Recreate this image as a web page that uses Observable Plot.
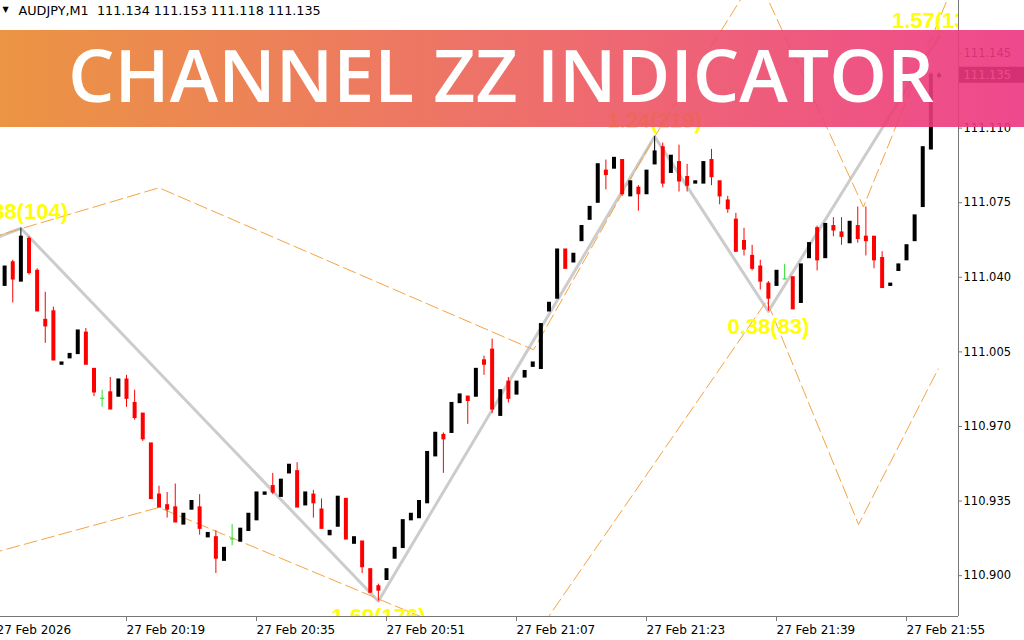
<!DOCTYPE html>
<html><head><meta charset="utf-8">
<script src="https://cdn.jsdelivr.net/npm/d3@7"></script>
<script src="https://cdn.jsdelivr.net/npm/@observablehq/plot@0.6"></script>
<style>
html,body{margin:0;padding:0;background:#fff;}
#wrap{position:relative;width:1024px;height:640px;overflow:hidden;}
#banner{position:absolute;left:0;top:30px;}
</style></head><body>
<div id="wrap"><div id="chart"></div>
<svg id="banner" width="1024" height="97" viewBox="0 0 1024 97">
 <defs><linearGradient id="g" x1="0" x2="1" y1="0" y2="0">
  <stop offset="0" stop-color="rgb(233,137,46)"/>
  <stop offset="0.5" stop-color="rgb(236,96,90)"/>
  <stop offset="1" stop-color="rgb(237,52,130)"/>
 </linearGradient></defs>
 <rect x="0" y="0" width="1024" height="97" fill="url(#g)" opacity="0.9"/>
 <text id="btitle" x="68" y="72" fill="#fff" font-family="Open Sans" font-weight="600" font-size="72" textLength="866" lengthAdjust="spacingAndGlyphs"></text>
</svg>
</div>
<script>
// ---- data ----
const bannerTitle = "CHANNEL ZZ INDICATOR";
const headerText = "AUDJPY,M1  111.134 111.153 111.118 111.135";
const currentPrice = 111.135;

// bar index = minutes after 20:03
const minute = [1,2,3,4,5,6,7,8,9,10,11,12,13,14,15,16,17,18,19,20,21,22,23,24,25,26,27,28,29,30,31,32,33,34,35,36,37,38,39,40,41,42,43,44,45,46,47,48,49,50,51,52,53,54,55,56,57,58,59,60,61,62,63,64,65,66,67,68,69,70,71,72,73,74,75,76,77,78,79,80,81,82,83,84,85,86,87,88,89,90,91,92,93,94,95,96,97,98,99,100,101,102,103,104,105,106,107,108,109,110,111,112,113,114,115,116];
const open  = [111.036,111.047,111.038,111.058,111.043,111.020,111.024,110.999,111.002,111.004,111.014,110.997,110.983,110.986,110.984,110.992,110.981,110.976,110.962,110.938,110.933,110.932,110.924,110.931,110.932,110.918,110.918,110.907,110.917,110.916,110.921,110.926,110.938,110.942,110.937,110.948,110.949,110.933,110.938,110.931,110.919,110.923,110.936,110.915,110.916,110.903,110.895,110.898,110.908,110.913,110.926,110.927,110.934,110.956,110.966,110.967,110.981,110.984,110.984,111.001,111.006,110.975,110.991,110.985,110.993,110.998,110.997,111.024,111.030,111.053,111.047,111.057,111.067,111.075,111.090,111.091,111.095,111.078,111.082,111.079,111.093,111.101,111.089,111.094,111.087,111.084,111.084,111.095,111.085,111.076,111.067,111.057,111.050,111.045,111.037,111.036,111.039,111.040,111.028,111.049,111.063,111.049,111.064,111.061,111.056,111.064,111.059,111.059,111.049,111.036,111.043,111.048,111.057,111.073,111.100,111.134];
const high  = [111.045,111.048,111.063,111.059,111.044,111.033,111.026,111.000,111.004,111.015,111.016,110.997,110.987,110.993,110.992,110.994,110.987,110.976,110.962,110.942,110.939,110.943,110.929,110.935,110.938,110.920,110.921,110.913,110.924,110.922,110.929,110.939,110.939,110.948,110.945,110.952,110.953,110.939,110.940,110.936,110.921,110.937,110.936,110.918,110.916,110.903,110.896,110.903,110.913,110.926,110.929,110.935,110.958,110.967,110.967,110.981,110.985,110.984,110.997,111.003,111.011,110.987,110.993,110.991,110.996,111.000,111.018,111.028,111.053,111.053,111.051,111.064,111.073,111.093,111.095,111.096,111.095,111.085,111.083,111.090,111.106,111.103,111.097,111.102,111.093,111.085,111.094,111.100,111.085,111.078,111.070,111.063,111.055,111.048,111.038,111.043,111.046,111.040,111.046,111.056,111.064,111.065,111.068,111.068,111.066,111.073,111.073,111.059,111.052,111.037,111.046,111.055,111.069,111.101,111.136,111.136];
const low   = [111.036,111.028,111.038,111.041,111.024,111.009,111.001,110.999,111.002,111.004,110.999,110.984,110.979,110.978,110.984,110.979,110.973,110.963,110.936,110.932,110.927,110.925,110.924,110.931,110.919,110.918,110.901,110.907,110.914,110.916,110.921,110.926,110.938,110.938,110.937,110.948,110.932,110.933,110.927,110.922,110.919,110.923,110.917,110.915,110.901,110.892,110.888,110.898,110.908,110.913,110.926,110.927,110.934,110.956,110.948,110.967,110.981,110.971,110.984,110.994,110.976,110.975,110.981,110.985,110.993,110.998,110.997,111.024,111.030,111.044,111.047,111.057,111.067,111.075,111.081,111.091,111.078,111.078,111.071,111.079,111.093,111.082,111.089,111.080,111.080,111.084,111.084,111.083,111.074,111.070,111.052,111.050,111.043,111.034,111.024,111.036,111.039,111.025,111.028,111.049,111.043,111.049,111.059,111.055,111.056,111.056,111.050,111.044,111.035,111.036,111.043,111.048,111.057,111.073,111.100,111.133];
const close = [111.045,111.039,111.059,111.042,111.024,111.017,111.001,111.000,111.004,111.015,110.999,110.986,110.983,110.978,110.992,110.983,110.974,110.964,110.936,110.932,110.931,110.925,110.929,110.935,110.922,110.920,110.908,110.913,110.917,110.922,110.929,110.939,110.939,110.939,110.945,110.952,110.932,110.939,110.934,110.922,110.921,110.937,110.917,110.918,110.904,110.892,110.893,110.903,110.913,110.926,110.929,110.935,110.958,110.967,110.964,110.981,110.985,110.982,110.997,110.999,110.978,110.987,110.983,110.991,110.996,111.000,111.018,111.028,111.053,111.044,111.051,111.064,111.073,111.093,111.088,111.096,111.079,111.085,111.079,111.090,111.099,111.084,111.097,111.085,111.083,111.085,111.094,111.087,111.078,111.072,111.052,111.053,111.044,111.038,111.030,111.043,111.039,111.025,111.046,111.056,111.048,111.065,111.062,111.059,111.066,111.058,111.057,111.048,111.035,111.037,111.046,111.055,111.069,111.101,111.135,111.135];

// zigzag pivots
const zzMinute = [-3, 3, 47, 81, 95, 116];
const zzPrice  = [111.054, 111.063, 110.888, 111.106, 111.024, 111.153];
const zzLabel  = ["", "0.38(104)", "1.69(176)", "1.24(219)", "0.38(83)", "1.57(130)"];

// channel lines (dashed)
const ch1Minute = [-3, 20, 66.1, 81, 94];
const ch1Price  = [111.056, 111.082, 111.006, 111.106, 111.185];
const ch2Minute = [-3, 20, 59];
const ch2Price  = [110.908, 110.932, 110.870];
const ch3Minute = [66, 94.8, 106.1, 115.9];
const ch3Price  = [110.870, 111.029, 110.924, 110.997];
const ch4Minute = [93.3, 106.7, 117.4];
const ch4Price  = [111.184, 111.073, 111.174];

// axes
const xTicks  = [0, 16, 32, 48, 64, 80, 96, 112];
const xLabels = ["27 Feb 2026","27 Feb 20:19","27 Feb 20:35","27 Feb 20:51","27 Feb 21:07","27 Feb 21:23","27 Feb 21:39","27 Feb 21:55"];
const yTicks  = [111.145, 111.110, 111.075, 111.040, 111.005, 110.970, 110.935, 110.900];

// ---- build ----
const bars = minute.map((m,i)=>({m, o:open[i], h:high[i], l:low[i], c:close[i]}));
const colorOf = d => d.c > d.o ? "#000000" : d.c < d.o ? "#ff0000" : "#33dd33";
const zz = zzMinute.map((m,i)=>({m, p:zzPrice[i], t:zzLabel[i], hi: i>0 && zzPrice[i] > zzPrice[i-1]}));
const chans = [];
[[ch1Minute,ch1Price],[ch2Minute,ch2Price],[ch3Minute,ch3Price],[ch4Minute,ch4Price]].forEach(([ms,ps],k)=>ms.forEach((m,i)=>chans.push({id:k,m,p:ps[i]})));

const pxPerBar = 8.125;
const X0 = 4/pxPerBar, X1 = X0 + 958/pxPerBar;
const Y0 = 110.88084, Y1 = 111.16987;
const pxPrice = (Y1-Y0)/616;

const chart = Plot.plot({
  width:1024, height:640, marginLeft:0, marginRight:66, marginTop:0, marginBottom:24,
  x:{type:"linear", domain:[X0,X1], axis:null},
  y:{type:"linear", domain:[Y0,Y1], axis:null},
  color:{type:"identity"},
  style:{fontFamily:"DejaVu Sans", background:"white", color:"black"},
  marks:[
    Plot.line(zz, {x:"m", y:"p", stroke:"#cccccc", strokeWidth:3, clip:true}),
    Plot.line(chans, {x:"m", y:"p", z:"id", stroke:"#f5a444", strokeWidth:1, strokeDasharray:"13,5", clip:true}),
    Plot.ruleX(bars, {x:"m", y1:"h", y2:"l", stroke:colorOf, strokeWidth:1, clip:true}),
    Plot.ruleX(bars, {x:"m", y1:d=>Math.max(d.o,d.c), y2:d=>Math.min(d.o,d.c), stroke:colorOf, strokeWidth:4, insetTop:-0.6, insetBottom:-0.6, clip:true}),
    Plot.text(zz.filter(d=>d.hi), {x:"m", y:"p", text:"t", dy:-16, fill:"#ffff00", fontWeight:"bold", fontSize:22, fontFamily:"Liberation Sans", clip:true}),
    Plot.text(zz.filter(d=>!d.hi && d.t), {x:"m", y:"p", text:"t", dy:16, fill:"#ffff00", fontWeight:"bold", fontSize:22, fontFamily:"Liberation Sans", clip:true}),
    // frame lines
    Plot.ruleX([X1], {stroke:"#777"}),
    Plot.ruleY([Y0], {stroke:"#777"}),
    // y axis
    Plot.ruleY(yTicks, {y:d=>d, x1:X1, x2:X1+4/pxPerBar, stroke:"#777"}),
    Plot.text(yTicks, {y:d=>d, x:X1, dx:5, textAnchor:"start", text:d=>d.toFixed(3), fontSize:11.5, fill:"black"}),
    // x axis
    Plot.ruleX(xTicks, {x:d=>d, y1:Y0, y2:Y0-5*pxPrice, stroke:"#777"}),
    Plot.text(xTicks, {x:d=>d, y:Y0, dy:14, dx:0, textAnchor:"start", text:(d,i)=>xLabels[i], fontSize:12, fill:"black"}),
    // current price box
    Plot.ruleY([currentPrice], {x1:X1+1/pxPerBar, x2:X1+66/pxPerBar, stroke:"black", strokeWidth:16}),
    Plot.text([currentPrice], {y:d=>d, x:X1, dx:5, textAnchor:"start", text:d=>d.toFixed(3), fontSize:11.5, fill:"white"}),
    // header
    Plot.text(["\u25BC"], {frameAnchor:"top-left", dx:2, dy:6, text:d=>d, textAnchor:"start", lineAnchor:"top", fontSize:8, fill:"black"}),
    Plot.text([headerText], {frameAnchor:"top-left", dx:18, dy:5, text:d=>d, textAnchor:"start", lineAnchor:"top", fontSize:12.8, fill:"black"})
  ]
});
document.getElementById("chart").appendChild(chart);
document.getElementById("btitle").textContent = bannerTitle;
</script>
</body></html>
